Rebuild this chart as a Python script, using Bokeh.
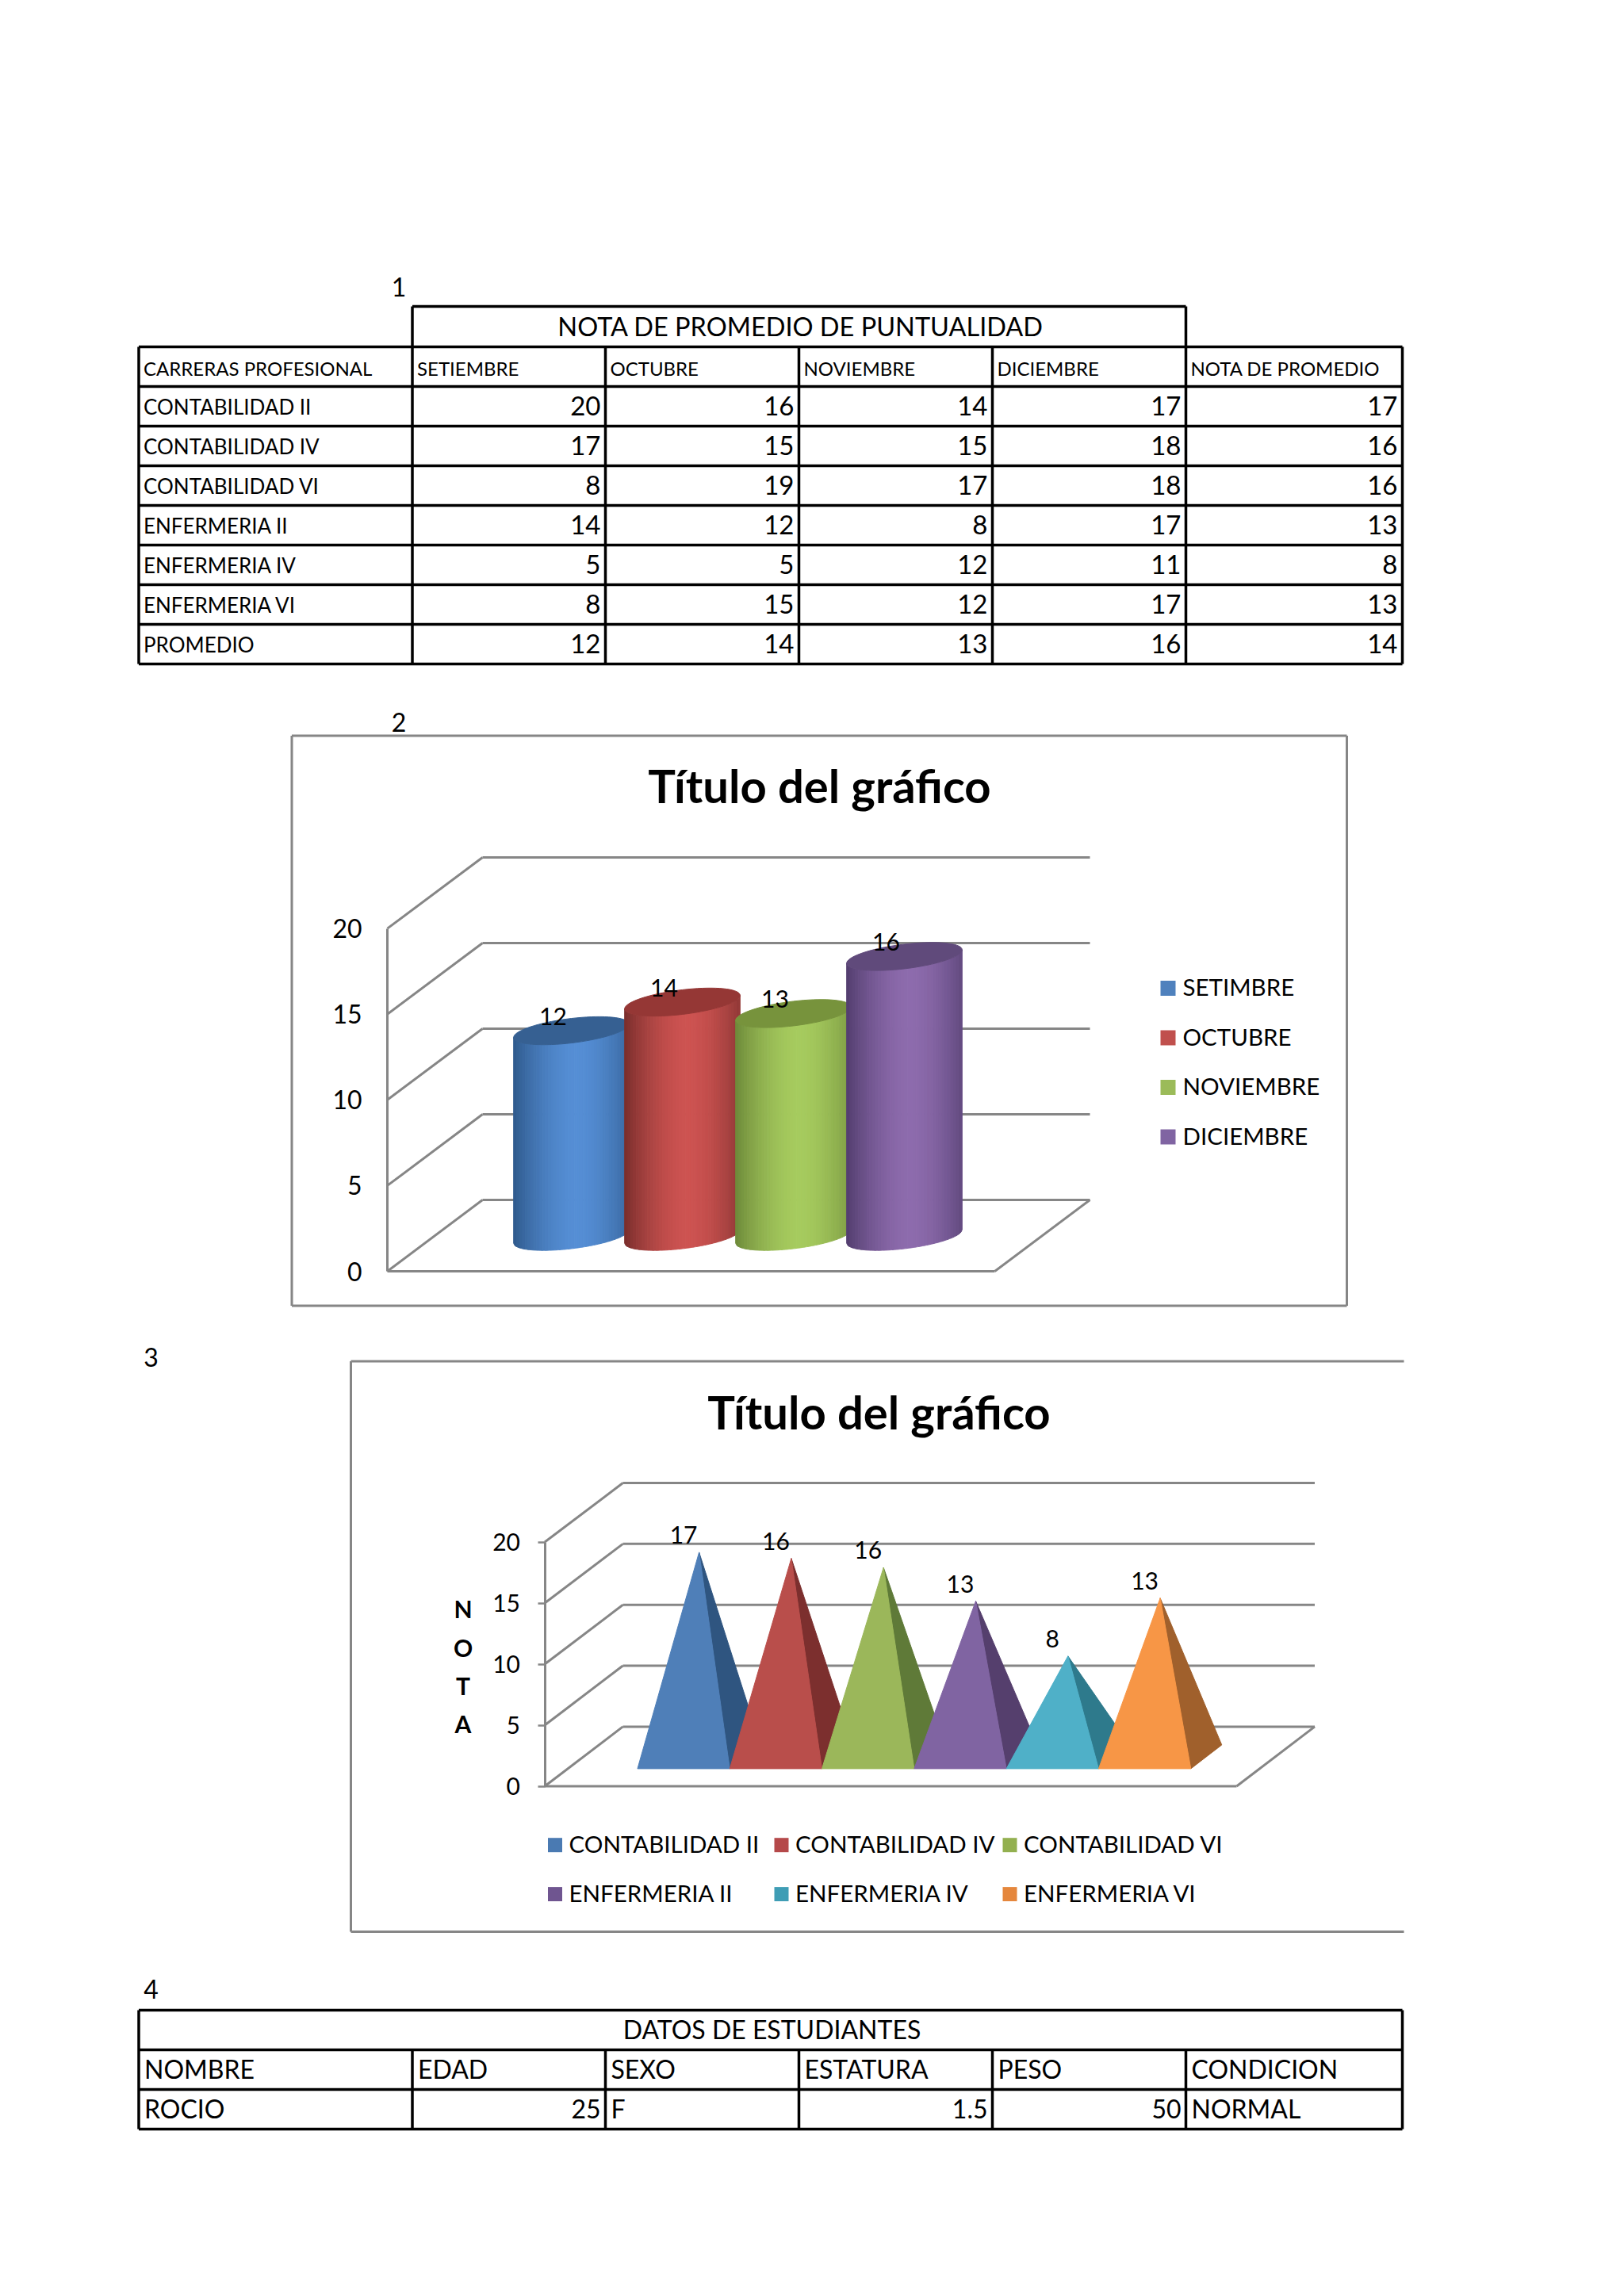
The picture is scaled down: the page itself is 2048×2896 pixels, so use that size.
import math
from bokeh.plotting import figure
from bokeh.models import Range1d, LinearAxis, FixedTicker
from bokeh.core.properties import value
from bokeh.embed import file_html
from bokeh.resources import INLINE

# ---------- data ----------
T1_TITLE = "NOTA DE PROMEDIO DE PUNTUALIDAD"
T1_HEAD = ["CARRERAS PROFESIONAL", "SETIEMBRE", "OCTUBRE", "NOVIEMBRE", "DICIEMBRE", "NOTA DE PROMEDIO"]
T1_ROWS = ["CONTABILIDAD II", "CONTABILIDAD IV", "CONTABILIDAD VI", "ENFERMERIA II", "ENFERMERIA IV", "ENFERMERIA VI", "PROMEDIO"]
T1_SET = [20, 17, 8, 14, 5, 8, 12]
T1_OCT = [16, 15, 19, 12, 5, 15, 14]
T1_NOV = [14, 15, 17, 8, 12, 12, 13]
T1_DIC = [17, 18, 18, 17, 11, 17, 16]
T1_AVG = [17, 16, 16, 13, 8, 13, 14]

C2_NAMES = ["SETIMBRE", "OCTUBRE", "NOVIEMBRE", "DICIEMBRE"]
C2_VALUES = [12, 13.67, 13, 16.33]
C2_LABELS = ["12", "14", "13", "16"]
C3_NAMES = ["CONTABILIDAD II", "CONTABILIDAD IV", "CONTABILIDAD VI", "ENFERMERIA II", "ENFERMERIA IV", "ENFERMERIA VI"]
C3_VALUES = [16.75, 16.25, 15.5, 12.75, 8.25, 13]
C3_LABELS = ["17", "16", "16", "13", "8", "13"]
Y_TICKS = [0, 5, 10, 15, 20]
CHART_TITLE = "Título del gráfico"

T4_TITLE = "DATOS DE ESTUDIANTES"
T4_HEAD = ["NOMBRE", "EDAD", "SEXO", "ESTATURA", "PESO", "CONDICION"]
T4_ROW = ["ROCIO", "25", "F", "1.5", "50", "NORMAL"]
T4_RIGHT = [False, True, False, True, True, False]

# ---------- style ----------
FONT = "Lato"
GRID = "#868686"
C2_BRIGHT = ["#558ed5", "#cd5351", "#a6cb5e", "#8d6bad"]
C2_DARK = ["#2f5a8c", "#7a2e2c", "#6e8a3a", "#523d6e"]
C2_TOP = ["#366092", "#953735", "#77933c", "#604a7b"]
C2_SWATCH = ["#4f81bd", "#c0504d", "#9bbb59", "#8064a2"]
C3_FRONT = ["#4f7fb8", "#b94e4b", "#9bb75a", "#8064a2", "#4fb0c8", "#f79646"]
C3_SIDE = ["#2f5580", "#7c2f2e", "#5f7a38", "#553f6d", "#2e7a8c", "#a0602c"]
C3_SWATCH = ["#4a7ab2", "#b5494a", "#93b050", "#6f5590", "#3f9db5", "#e5873d"]

W, H = 2032, 2880
p = figure(width=W, height=H, x_range=Range1d(0, W), y_range=Range1d(H, 0),
           x_axis_type=None, y_axis_type=None, toolbar_location=None,
           output_backend="svg", min_border=0, outline_line_color=None,
           background_fill_color="white", border_fill_color="white")
p.grid.visible = False


def txt(x, y, s, size, align="left", bold=False, color="black"):
    p.text([x], [y - 2], text=[s], text_font=value(FONT), text_font_size=f"{size}px",
           text_align=align, text_baseline="middle", text_color=color,
           text_font_style="bold" if bold else "normal")


def lines(segs, color="black", width=3.5):
    p.segment([s[0] for s in segs], [s[1] for s in segs], [s[2] for s in segs], [s[3] for s in segs],
              line_color=color, line_width=width)


def mix(a, b, f):
    ca = [int(a[i:i + 2], 16) for i in (1, 3, 5)]
    cb = [int(b[i:i + 2], 16) for i in (1, 3, 5)]
    return "#%02x%02x%02x" % tuple(round(u + (v - u) * f) for u, v in zip(ca, cb))


def value_range(name, y0_px, px_per_unit):
    """Value scale whose 0 falls at canvas y y0_px."""
    p.extra_y_ranges[name] = Range1d((y0_px - H) / px_per_unit, y0_px / px_per_unit)


def index_range(name, x0_px, px_per_cat):
    p.extra_x_ranges[name] = Range1d(-x0_px / px_per_cat, (W - x0_px) / px_per_cat)


def wall(right_f, front_x, back_x, y_front, y_back, ticks, scale_f, scale_b):
    """Oblique 3-D walls and floor, from the tick values."""
    segs = []
    for t in ticks:
        segs.append((front_x, y_front - t * scale_f, back_x, y_back - t * scale_b))
        segs.append((back_x, y_back - t * scale_b, right_f + (back_x - front_x), y_back - t * scale_b))
    segs.append((front_x, y_front, right_f, y_front))
    segs.append((right_f, y_front, right_f + (back_x - front_x), y_back))
    lines(segs, GRID, 3)


def axis(name, x, ticks, size, tick_out, standoff):
    ax = LinearAxis(y_range_name=name, fixed_location=x, ticker=FixedTicker(ticks=ticks),
                    bounds=(ticks[0], ticks[-1]),
                    axis_line_color=GRID, axis_line_width=3,
                    major_tick_line_color=GRID, major_tick_line_width=2.5,
                    major_tick_out=tick_out, major_tick_in=0, minor_tick_line_color=None,
                    major_label_text_font=FONT, major_label_text_font_size=f"{size}px",
                    major_label_text_color="black", major_label_standoff=standoff)
    p.add_layout(ax, "left")


# ---------- table 1 ----------
CX = [174.5, 519.5, 763, 1007, 1251, 1495, 1768]
T1_Y = [386, 437, 487, 537, 587, 637, 687, 737, 787, 837]
segs = [(CX[1], T1_Y[0], CX[5], T1_Y[0]), (CX[1], T1_Y[0], CX[1], T1_Y[1]), (CX[5], T1_Y[0], CX[5], T1_Y[1])]
segs += [(CX[0], y, CX[6], y) for y in T1_Y[1:]]
segs += [(x, T1_Y[1], x, T1_Y[-1]) for x in CX]
lines(segs)
txt(502.5, 363, "1", 32, "center")
txt((CX[1] + CX[5]) / 2 + 2, 413, T1_TITLE, 32.5, "center")
for c, s in enumerate(T1_HEAD):
    txt(CX[c] + 6, 466, s, 24)
for r, name in enumerate(T1_ROWS):
    y = (T1_Y[r + 2] + T1_Y[r + 3]) / 2 + 2
    txt(CX[0] + 6, y, name, 26)
    for c, col in enumerate([T1_SET, T1_OCT, T1_NOV, T1_DIC, T1_AVG]):
        txt(CX[c + 2] - 6, y - 1, str(col[r]), 33, "right")

# ---------- chart 2 ----------
lines([(367.5, 927.5, 1698, 927.5), (1698, 927.5, 1698, 1646.5), (1698, 1646.5, 367.5, 1646.5), (367.5, 1646.5, 367.5, 927.5)], GRID, 3)
txt(502.5, 912, "2", 32, "center")
txt(1033, 992, CHART_TITLE, 58, "center", True)
wall(1254, 488, 608, 1603, 1513, Y_TICKS, 21.62, 21.6)
value_range("c2y", 1603, 21.62)
index_range("c2x", 720, 140)
axis("c2y", 488, Y_TICKS, 32, 0, 32)

C2_DEPTH = 44 / 21.62     # floor depth of the bars' centre, in value units
C2_B = 15.5 / 21.62       # ellipse half height
C2_TILT = 8.5 / 21.62
C2_HALF = 0.52
N = 40
for i, v in enumerate(C2_VALUES):
    xs, ys, cols = [], [], []
    for j in range(N):
        t0 = -1 + 2 * j / N
        t1 = -1 + 2 * (j + 1) / N
        ts = [t0 + (t1 - t0) * k / 3 for k in range(4)]
        low = [-C2_B * max(0, 1 - t * t) ** 0.5 + C2_TILT * t + C2_DEPTH for t in ts]
        xs.append([i + C2_HALF * t for t in ts] + [i + C2_HALF * t for t in reversed(ts)])
        ys.append([l for l in low] + [l + v for l in reversed(low)])
        tm = (t0 + t1) / 2
        cols.append(mix(C2_DARK[i], C2_BRIGHT[i], max(0, 1 - (abs(tm - 0.1) / 1.1) ** 1.7)))
    p.patches(xs, ys, fill_color=cols, line_color=cols, line_width=1,
              x_range_name="c2x", y_range_name="c2y")
    ex, ey = [], []
    for k in range(73):
        th = k / 72 * 2 * math.pi
        c, s = math.cos(th), math.sin(th)
        ex.append(i + C2_HALF * c)
        ey.append(v + C2_DEPTH + C2_B * s + C2_TILT * c)
    p.patch(ex, ey, fill_color=C2_TOP[i], line_color=C2_TOP[i], line_width=1,
            x_range_name="c2x", y_range_name="c2y")
p.text(list(range(4)), [v + C2_DEPTH for v in C2_VALUES], text=C2_LABELS, x_offset=-23, y_offset=-18,
       text_font=value(FONT), text_font_size="30px", text_align="center", text_baseline="middle",
       text_color="black", x_range_name="c2x", y_range_name="c2y")
for i, n in enumerate(C2_NAMES):
    y = 1246 + 62.5 * i
    p.rect([1472.5], [y], width=19, height=19, fill_color=C2_SWATCH[i], line_color=None)
    txt(1491, y, n, 29.5)

# ---------- chart 3 ----------
lines([(1770, 1716.5, 442, 1716.5), (442, 1716.5, 442, 2436), (442, 2436, 1770, 2436)], GRID, 3)
txt(190, 1713, "3", 32, "center")
txt(1108, 1781.5, CHART_TITLE, 58, "center", True)
wall(1559, 686.5, 785, 2252.5, 2177.4, Y_TICKS, 15.4, 15.37)
value_range("c3y", 2252.5, 15.4)
index_range("c3x", 861.6, 116.3)
axis("c3y", 686.5, Y_TICKS, 30, 9, 22)
for ch, yy in zip("NOTA", [2030.5, 2079, 2127, 2175]):
    txt(583.5, yy, ch, 30, "center", True)

C3_FRONT_DEPTH = 22.1 / 15.4   # front edge of the base, in value units
C3_BACK_DX = 39 / 116.3
C3_BACK_DY = 30 / 15.4
for i, v in enumerate(C3_VALUES):
    apex_x = i + C3_BACK_DX / 2
    apex_y = v + C3_FRONT_DEPTH + C3_BACK_DY / 2
    p.patch([i + 0.5, i + 0.5 + C3_BACK_DX, apex_x],
            [C3_FRONT_DEPTH, C3_FRONT_DEPTH + C3_BACK_DY, apex_y],
            fill_color=C3_SIDE[i], line_color=C3_SIDE[i], line_width=1, x_range_name="c3x", y_range_name="c3y")
    p.patch([i - 0.5, i + 0.5, apex_x], [C3_FRONT_DEPTH, C3_FRONT_DEPTH, apex_y],
            fill_color=C3_FRONT[i], line_color=C3_FRONT[i], line_width=1, x_range_name="c3x", y_range_name="c3y")
p.text(list(range(6)), [v + C3_FRONT_DEPTH + C3_BACK_DY / 2 for v in C3_VALUES], text=C3_LABELS,
       y_offset=-22, text_font=value(FONT), text_font_size="30px", text_align="center",
       text_baseline="middle", text_color="black", x_range_name="c3x", y_range_name="c3y")
LEG_X = [699.5, 985, 1273]
LEG_Y = [2326.7, 2388.6]
for i, n in enumerate(C3_NAMES):
    x, y = LEG_X[i % 3], LEG_Y[i // 3]
    p.rect([x], [y], width=18, height=18, fill_color=C3_SWATCH[i], line_color=None)
    txt(x + 17.5, y, n, 29.5)

# ---------- table 4 ----------
T4_Y = [2535, 2585, 2635, 2685]
segs = [(CX[0], y, CX[6], y) for y in T4_Y]
segs += [(CX[0], T4_Y[0], CX[0], T4_Y[-1]), (CX[6], T4_Y[0], CX[6], T4_Y[-1])]
segs += [(x, T4_Y[1], x, T4_Y[-1]) for x in CX[1:-1]]
lines(segs)
txt(190, 2510.5, "4", 32, "center")
txt(973, 2561, T4_TITLE, 32, "center")
for c, s in enumerate(T4_HEAD):
    txt(CX[c] + 7, 2611, s, 32)
for c, s in enumerate(T4_ROW):
    if T4_RIGHT[c]:
        txt(CX[c + 1] - 6, 2661, s, 32, "right")
    else:
        txt(CX[c] + 7, 2661, s, 32)

open("out.html", "w").write(file_html(p, INLINE))
